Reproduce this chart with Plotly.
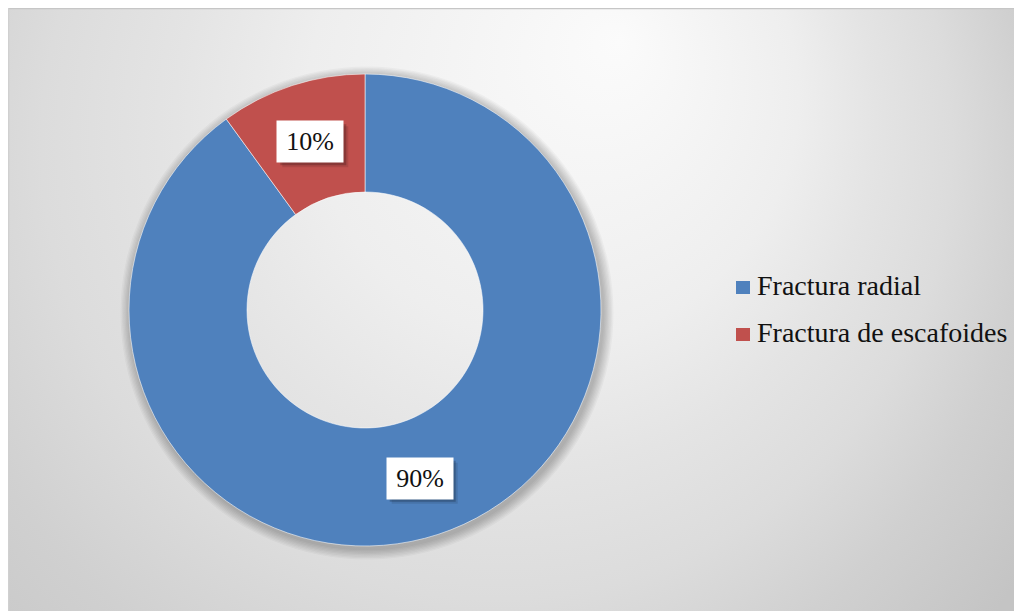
import base64
import math
import plotly.graph_objects as go

# ---- data ----
labels = ["Fractura radial", "Fractura de escafoides"]
values = [90, 10]
pct_text = ["90%", "10%"]
colors = ["#4F81BD", "#C0504D"]

# ---- geometry (page pixels; the plot div sits 8px in from the page corner) ----
OX, OY = 8, 8
FW, FH = 1014, 603
CX, CY, R = 365, 310, 236
HOLE = 0.5
FONT = "Liberation Serif, Times New Roman, serif"
BOXW, BOXH = 66, 41

def fx(x):
    return (x - OX) / FW

def fy(y):
    return (FH - (y - OY)) / FH

# background gradient (svg coordinates = page - offset)
gcx, gcy, gr = 430 - OX, 200 - OY, 700
ffx, ffy = 620 - OX, 40 - OY
svg = f'''<svg xmlns="http://www.w3.org/2000/svg" width="{FW}" height="{FH}">
<defs><radialGradient id="g" gradientUnits="userSpaceOnUse" cx="{gcx}" cy="{gcy}" r="{gr}" fx="{ffx}" fy="{ffy}">
<stop offset="0" stop-color="#fbfbfb"/>
<stop offset="0.35" stop-color="#eeeeee"/>
<stop offset="0.5" stop-color="#e4e4e4"/>
<stop offset="0.65" stop-color="#dcdcdc"/>
<stop offset="0.8" stop-color="#d0d0d0"/>
<stop offset="1" stop-color="#c4c4c4"/>
</radialGradient></defs>
<rect x="0" y="0" width="{FW}" height="{FH}" fill="url(#g)"/>
<line x1="0" y1="0.5" x2="{FW}" y2="0.5" stroke="#c6c6c6" stroke-width="1.5"/>
<line x1="0.5" y1="0" x2="0.5" y2="{FH}" stroke="#d0d0d0" stroke-width="1.5"/>
</svg>'''
bg_src = "data:image/svg+xml;base64," + base64.b64encode(svg.encode()).decode()

fig = go.Figure()

# soft shadow rings behind the donut
for k in range(1, 9):
    rr = R + k * 1.3
    sx, sy = 2, 3
    fig.add_trace(go.Pie(
        values=[1], labels=["shadow"], hole=(R - 4) / rr, sort=False,
        marker=dict(colors=["rgba(0,0,0,0.032)"], line=dict(width=0)),
        textinfo="none", hoverinfo="skip", showlegend=False,
        domain=dict(x=[fx(CX + sx - rr), fx(CX + sx + rr)],
                    y=[fy(CY + sy + rr), fy(CY + sy - rr)]),
    ))

fig.add_trace(go.Pie(
    labels=labels,
    values=values,
    marker=dict(colors=colors, line=dict(color="rgba(255,255,255,0.55)", width=1)),
    hole=HOLE,
    sort=False,
    direction="clockwise",
    rotation=0,
    textinfo="none",
    showlegend=False,
    domain=dict(x=[fx(CX - R), fx(CX + R)], y=[fy(CY + R), fy(CY - R)]),
))

shapes = []
annotations = []
# percentage labels placed at slice bisectors, computed from values
total = sum(values)
cum = 0
rm = (HOLE + 1) / 2 * R
for v, t in zip(values, pct_text):
    f = (cum + v / 2) / total
    cum += v
    th = 2 * math.pi * f
    x = CX + rm * math.sin(th)
    y = CY - rm * math.cos(th)
    for sx, sy, a in [(5, 5, 0.10), (3, 3, 0.20)]:
        shapes.append(dict(type="rect", xref="paper", yref="paper",
                           x0=fx(x - BOXW / 2 + sx), x1=fx(x + BOXW / 2 + sx),
                           y0=fy(y + BOXH / 2 + sy), y1=fy(y - BOXH / 2 + sy),
                           fillcolor=f"rgba(0,0,0,{a})", line=dict(width=0)))
    annotations.append(dict(x=fx(x), y=fy(y), xref="paper", yref="paper",
                            xanchor="center", yanchor="middle", text=t, showarrow=False,
                            width=BOXW, height=BOXH, borderpad=0,
                            font=dict(family=FONT, size=26, color="#111111"),
                            bgcolor="white"))

# legend
LX, LY0, LDY = 743, 287.5, 47
for i, (lab, col) in enumerate(zip(labels, colors)):
    yc = LY0 + i * LDY
    shapes.append(dict(type="rect", xref="paper", yref="paper",
                       x0=fx(LX - 7), x1=fx(LX + 7),
                       y0=fy(yc + 6.5), y1=fy(yc - 6.5),
                       fillcolor=col, line=dict(width=0)))
    annotations.append(dict(x=fx(755), y=fy(yc - 2), xref="paper", yref="paper",
                            xanchor="left", yanchor="middle", text=lab, showarrow=False,
                            font=dict(family=FONT, size=28, color="#111111")))

fig.update_layout(
    width=FW, height=FH,
    margin=dict(l=0, r=0, t=0, b=0),
    paper_bgcolor="white",
    plot_bgcolor="rgba(0,0,0,0)",
    images=[dict(source=bg_src, xref="paper", yref="paper", x=0, y=1,
                 sizex=1, sizey=1, xanchor="left", yanchor="top",
                 sizing="stretch", layer="below")],
    shapes=shapes,
    annotations=annotations,
)

fig.write_html("out.html")
